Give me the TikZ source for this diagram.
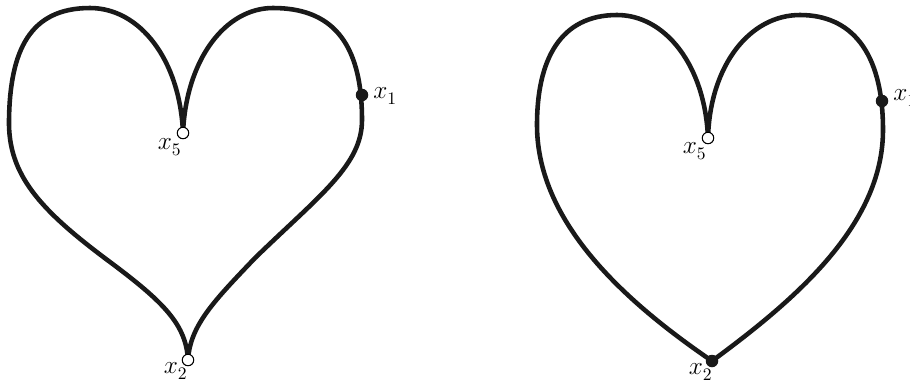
\documentclass[tikz,border=0pt]{standalone}
\begin{document}
\begin{tikzpicture}[x=0.02cm, y=-0.02cm,
    heart/.style={line width=2.6pt, line join=round, black!90},
    opendot/.style={circle, draw, line width=0.6pt, fill=white, inner sep=0pt, minimum size=0.23cm},
    filleddot/.style={circle, fill=black!90, inner sep=0pt, minimum size=0.25cm},
    lbl/.style={inner sep=0pt, font=\Large}]

  % Frame of the picture (pixel units, y downwards)
  \useasboundingbox (0,0) rectangle (910,387);

  % === Left heart: cusps at x_5 (top) and x_2 (bottom) ===
  \draw[heart]
    (183,133) .. controls (180,60) and (140,8) .. (90,8)      % left lobe
    .. controls (30,8) and (10,50) .. (9,120)
    .. controls (8,175) and (40,210) .. (110,262)             % lower left side
    .. controls (165,303) and (186,325) .. (188,360)          % into cusp x_2
    .. controls (190,325) and (215,300) .. (255,258)          % out of cusp x_2
    .. controls (320,195) and (362,165) .. (362,120)
    .. controls (362,40) and (330,8) .. (273,8)               % right lobe
    .. controls (225,8) and (186,60) .. (183,133);

  % === Right heart: cusp at x_5, corner at x_2 ===
  \draw[heart]
    (708,138) .. controls (705,65) and (665,15) .. (617,15)   % left lobe
    .. controls (560,15) and (537,60) .. (537,125)
    .. controls (537,225) and (630,305) .. (712,361)          % down to x_2
    .. controls (795,300) and (883,225) .. (883,130)          % up to x_1
    .. controls (883,50) and (850,15) .. (800,15)             % right lobe
    .. controls (750,15) and (710,65) .. (708,138);

  % --- Points ---
  \node[opendot]   (x5a) at (183,133) {};
  \node[opendot]   (x2a) at (188,360) {};
  \node[filleddot] (x1a) at (362,95)  {};
  \node[opendot]   (x5b) at (708,138) {};
  \node[filleddot] (x2b) at (712,361) {};
  \node[filleddot] (x1b) at (882,101) {};

  % --- Labels ---
  \node[lbl, anchor=north east] (l5a) at ([shift={(-1,5)}]x5a.center) {$x^{}_5$};
  \node[lbl, anchor=north east] (l2a) at ([shift={(0,2)}]x2a.center)  {$x^{}_2$};
  \node[lbl, anchor=base west]  (l1a) at ([shift={(11,3)}]x1a.center) {$x^{}_1$};
  \node[lbl, anchor=north east] (l5b) at ([shift={(-1,4)}]x5b.center) {$x^{}_5$};
  \node[lbl, anchor=north east] (l2b) at ([shift={(1,2)}]x2b.center)  {$x^{}_2$};
  \node[lbl, anchor=base west]  (l1b) at ([shift={(11,-1)}]x1b.center) {$x^{}_1$};

\end{tikzpicture}
\end{document}
